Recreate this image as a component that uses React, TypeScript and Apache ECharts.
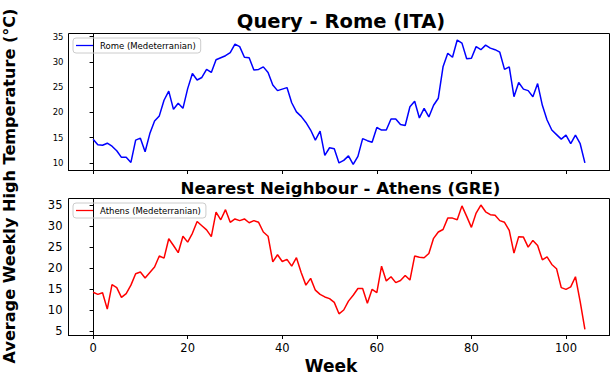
import React, { useEffect, useRef } from "react";
import * as echarts from "echarts";

const romeTemps = [
  14.7, 13.6, 13.5, 13.9, 13.3, 12.4, 11.1, 11.1, 10.1, 14.5, 14.9, 12.2, 15.8, 18.3, 19.3, 22.4, 24.2, 20.6, 21.8, 20.8,
  24.7, 27.7, 26.4, 26.9, 28.5, 27.9, 30.4, 30.8, 31.2, 31.8, 33.5, 33.0, 30.9, 30.8, 28.4, 28.5, 29.0, 27.9, 25.4, 24.3,
  24.6, 24.9, 21.9, 20.1, 19.2, 18.0, 16.5, 14.5, 16.3, 11.5, 13.0, 12.8, 10.0, 10.5, 11.4, 9.7, 11.3, 14.8, 14.4, 14.1,
  17.0, 16.5, 16.5, 18.7, 18.7, 17.6, 17.4, 21.1, 22.2, 18.9, 20.8, 19.1, 21.4, 22.8, 29.0, 31.7, 30.9, 34.3, 33.7, 30.6,
  30.7, 33.0, 32.4, 33.3, 32.7, 32.4, 31.9, 28.5, 29.0, 23.1, 25.9, 24.6, 24.3, 23.1, 25.7, 21.4, 18.5, 16.5, 15.6, 14.7,
  15.5, 13.8, 15.5, 13.8, 10.0,
];

const athensTemps = [
  14.3, 13.8, 14.2, 10.3, 16.1, 15.4, 13.1, 14.0, 16.0, 18.7, 19.1, 17.7, 19.0, 20.3, 22.9, 22.4, 27.0, 25.4, 23.7, 27.6,
  26.2, 28.3, 31.1, 30.1, 29.1, 27.5, 33.3, 31.5, 33.9, 30.9, 31.7, 31.3, 31.7, 30.8, 31.3, 30.9, 28.6, 27.6, 21.5, 23.2,
  21.6, 22.1, 20.5, 22.5, 19.0, 16.0, 17.6, 14.8, 13.8, 13.2, 12.8, 11.9, 9.2, 10.1, 12.2, 13.6, 15.2, 15.2, 11.7, 15.0,
  14.2, 20.5, 17.0, 18.0, 16.6, 17.1, 18.3, 17.2, 22.9, 22.6, 22.5, 23.5, 27.1, 28.6, 29.2, 31.9, 31.9, 31.5, 34.8, 32.3,
  29.7, 33.1, 35.0, 33.4, 32.7, 32.6, 31.3, 30.9, 29.0, 23.6, 27.5, 27.4, 25.0, 26.6, 25.4, 22.0, 22.7, 20.9, 19.9, 15.4,
  15.0, 15.6, 18.0, 12.1, 5.5,
];

const xTicks = [0, 20, 40, 60, 80, 100];
const romeYTicks = [10, 15, 20, 25, 30, 35];
const athensYTicks = [5, 10, 15, 20, 25, 30, 35];

const FONT = "DejaVu Sans";

export default function App() {
  const ref = useRef<HTMLDivElement>(null);
  useEffect(() => {
    if (!ref.current) return;
    const chart = echarts.init(ref.current, undefined, { renderer: "svg" });
    const rome = romeTemps.map((v, i) => [i, v]);
    const athens = athensTemps.map((v, i) => [i, v]);
    const xCommon = {
      type: "value" as const,
      min: -5.2,
      max: 109.2,
      splitLine: { show: false },
      axisLine: { show: true, onZero: false, lineStyle: { color: "#000", width: 1 } },
      axisTick: {
        show: true,
        inside: false,
        length: 3.5,
        lineStyle: { color: "#000" },
        customValues: xTicks,
      },
    };
    const yCommon = {
      type: "value" as const,
      splitLine: { show: false },
      axisLine: { show: true, lineStyle: { color: "#000", width: 1 } },
      axisTick: { show: true, inside: false, length: 3.5, lineStyle: { color: "#000" } },
    };
    const boldText = (text: string, x: number, y: number, fontSize: number, rotation = 0, fontFamily = FONT) => ({
      type: "text",
      x,
      y,
      rotation,
      style: {
        text,
        fontFamily,
        fontWeight: "bold",
        fontSize,
        fill: "#000",
        align: "center",
        verticalAlign: "middle",
      },
    });
    const legendCommon = {
      left: 73,
      orient: "vertical",
      itemWidth: 17,
      itemHeight: 8,
      itemGap: 2,
      padding: [3, 5, 3, 3],
      borderColor: "#ccc",
      borderWidth: 1,
      borderRadius: 3,
      icon: "path://M0,4 L20,4 L20,5.5 L0,5.5 Z",
      textStyle: { fontFamily: FONT, fontSize: 8.5, color: "#000", padding: [0, 0, 0, 2] },
    };
    chart.setOption({
      animation: false,
      backgroundColor: "#fff",
      textStyle: { fontFamily: FONT },
      graphic: [
        boldText("Query - Rome (ITA)", 341, 21, 19.5),
        boldText("Nearest Neighbour - Athens (GRE)", 340.5, 188, 16.6),
        boldText("Week", 331, 366, 17),
        boldText("Average Weekly High Temperature (°C)", 9.5, 186, 16.1, Math.PI / 2),
        {
          type: "rect",
          shape: { x: 68.5, y: 33.5, width: 541, height: 137 },
          style: { fill: "none", stroke: "#000", lineWidth: 1 },
          silent: true,
          z: 10,
        },
        {
          type: "rect",
          shape: { x: 68.5, y: 198.5, width: 541, height: 137 },
          style: { fill: "none", stroke: "#000", lineWidth: 1 },
          silent: true,
          z: 10,
        },
      ],
      legend: [
        { ...legendCommon, data: ["Rome (Medeterranian)"], top: 38 },
        { ...legendCommon, data: ["Athens (Medeterranian)"], top: 203 },
      ],
      grid: [
        { left: 68.5, top: 33.5, width: 541, height: 137 },
        { left: 68.5, top: 198.5, width: 541, height: 137 },
      ],
      xAxis: [
        { ...xCommon, gridIndex: 0, axisLabel: { show: false, customValues: xTicks } },
        {
          ...xCommon,
          gridIndex: 1,
          axisLabel: { show: true, customValues: xTicks, color: "#000", fontFamily: FONT, fontSize: 11.5, margin: 6 },
        },
      ],
      yAxis: [
        {
          ...yCommon,
          gridIndex: 0,
          min: 8.5,
          max: 35.6,
          axisTick: { ...yCommon.axisTick, customValues: romeYTicks },
          axisLabel: { customValues: romeYTicks, color: "#000", fontFamily: FONT, fontSize: 8.5, margin: 5 },
        },
        {
          ...yCommon,
          gridIndex: 1,
          min: 4.05,
          max: 36.55,
          axisTick: { ...yCommon.axisTick, customValues: athensYTicks },
          axisLabel: { customValues: athensYTicks, color: "#000", fontFamily: FONT, fontSize: 11.5, margin: 6 },
        },
      ],
      series: [
        {
          name: "Rome (Medeterranian)",
          type: "line",
          xAxisIndex: 0,
          yAxisIndex: 0,
          data: rome,
          showSymbol: false,
          symbol: "none",
          color: "#0000ff",
          lineStyle: { color: "#0000ff", width: 1.5 },
        },
        {
          name: "Athens (Medeterranian)",
          type: "line",
          xAxisIndex: 1,
          yAxisIndex: 1,
          data: athens,
          showSymbol: false,
          symbol: "none",
          color: "#ff0000",
          lineStyle: { color: "#ff0000", width: 1.5 },
        },
      ],
    });
    return () => chart.dispose();
  }, []);
  return <div ref={ref} style={{ width: 612, height: 376, position: "absolute", left: 0, top: 0 }} />;
}
